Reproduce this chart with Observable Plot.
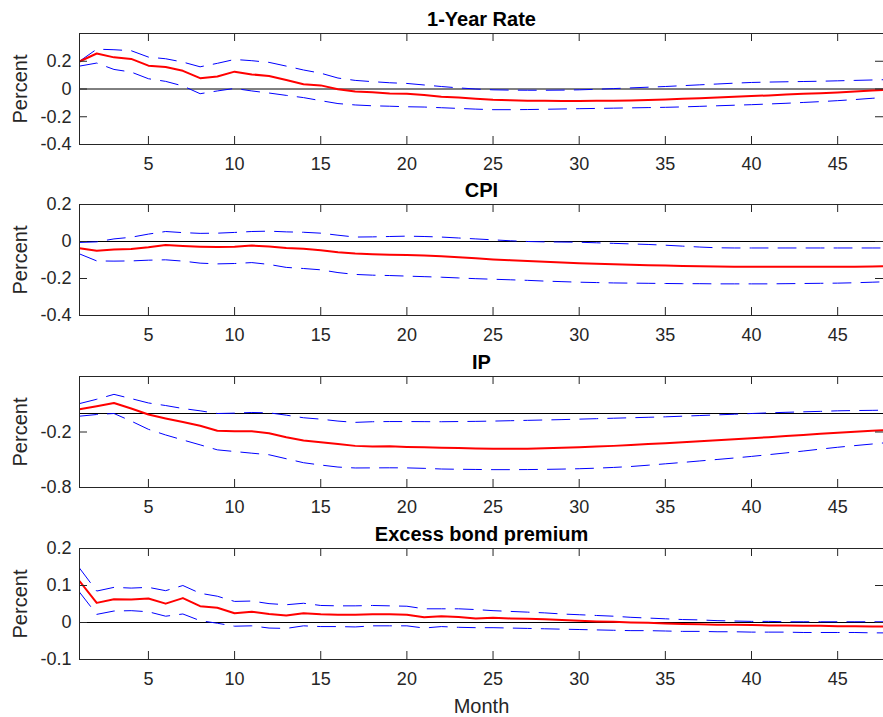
<!DOCTYPE html>
<html>
<head>
<meta charset="utf-8">
<script src="https://cdn.jsdelivr.net/npm/d3@7"></script>
<script src="https://cdn.jsdelivr.net/npm/@observablehq/plot@0.6"></script>
<style>
  html, body { margin: 0; padding: 0; background: #fff; }
  body { width: 883px; height: 717px; position: relative; overflow: hidden; font-family: "Liberation Sans", Arial, sans-serif; }
  .panel { position: absolute; left: 0; }
</style>
</head>
<body>
<div id="chart"></div>
<script>
// ---------- data ----------
const months = d3.range(1, 49);
const xTicks = [5, 10, 15, 20, 25, 30, 35, 40, 45];
const xDomain = [1, 47.66];

const titles = ["1-Year Rate", "CPI", "IP", "Excess bond premium"];
const yLabel = "Percent";
const xLabel = "Month";

// 1-Year Rate
const rateIrf = [0.198,0.256,0.228,0.217,0.168,0.159,0.131,0.078,0.090,0.125,0.105,0.094,0.065,0.034,0.026,-0.002,-0.018,-0.023,-0.032,-0.034,-0.043,-0.055,-0.062,-0.070,-0.077,-0.081,-0.084,-0.085,-0.086,-0.086,-0.085,-0.084,-0.082,-0.079,-0.075,-0.071,-0.066,-0.061,-0.056,-0.051,-0.046,-0.040,-0.035,-0.030,-0.025,-0.018,-0.011,-0.005];
const rateUp  = [0.200,0.287,0.283,0.276,0.230,0.218,0.194,0.160,0.185,0.213,0.204,0.192,0.165,0.137,0.114,0.079,0.062,0.053,0.045,0.040,0.029,0.018,0.008,0.000,-0.006,-0.008,-0.009,-0.009,-0.008,-0.006,-0.002,0.003,0.008,0.013,0.018,0.024,0.030,0.036,0.042,0.047,0.050,0.052,0.054,0.056,0.059,0.062,0.065,0.068];
const rateLo  = [0.165,0.187,0.141,0.122,0.074,0.055,0.022,-0.034,-0.014,0.004,-0.014,-0.029,-0.046,-0.062,-0.084,-0.105,-0.115,-0.121,-0.124,-0.128,-0.130,-0.135,-0.140,-0.145,-0.149,-0.149,-0.148,-0.146,-0.144,-0.142,-0.140,-0.138,-0.136,-0.134,-0.132,-0.129,-0.125,-0.121,-0.117,-0.113,-0.108,-0.103,-0.097,-0.091,-0.084,-0.076,-0.067,-0.058];
const rateYDomain = [-0.4, 0.4];
const rateYTicks = [-0.4, -0.2, 0, 0.2];

// CPI
const cpiIrf = [-0.036,-0.050,-0.043,-0.040,-0.031,-0.019,-0.024,-0.028,-0.030,-0.029,-0.022,-0.027,-0.035,-0.039,-0.047,-0.058,-0.065,-0.069,-0.071,-0.073,-0.076,-0.080,-0.085,-0.091,-0.097,-0.101,-0.105,-0.109,-0.113,-0.117,-0.120,-0.123,-0.126,-0.128,-0.130,-0.132,-0.134,-0.135,-0.136,-0.137,-0.137,-0.137,-0.137,-0.137,-0.137,-0.136,-0.135,-0.134];
const cpiUp  = [-0.005,-0.002,0.014,0.023,0.040,0.054,0.048,0.044,0.045,0.049,0.054,0.056,0.052,0.050,0.045,0.034,0.024,0.025,0.027,0.029,0.027,0.024,0.019,0.014,0.009,0.004,0.000,-0.002,-0.003,-0.004,-0.007,-0.010,-0.013,-0.016,-0.020,-0.025,-0.030,-0.034,-0.035,-0.035,-0.035,-0.035,-0.035,-0.035,-0.035,-0.035,-0.035,-0.035];
const cpiLo  = [-0.067,-0.105,-0.106,-0.105,-0.101,-0.099,-0.106,-0.117,-0.121,-0.119,-0.114,-0.124,-0.140,-0.146,-0.153,-0.168,-0.178,-0.182,-0.184,-0.187,-0.190,-0.193,-0.197,-0.201,-0.204,-0.207,-0.210,-0.214,-0.217,-0.220,-0.222,-0.224,-0.225,-0.226,-0.227,-0.228,-0.228,-0.229,-0.229,-0.229,-0.229,-0.228,-0.227,-0.226,-0.225,-0.223,-0.220,-0.217];
const cpiYDomain = [-0.4, 0.2];
const cpiYTicks = [-0.4, -0.2, 0, 0.2];

// IP
const ipIrf = [0.046,0.079,0.114,0.054,-0.011,-0.054,-0.093,-0.132,-0.186,-0.193,-0.193,-0.214,-0.257,-0.293,-0.311,-0.329,-0.350,-0.357,-0.354,-0.361,-0.364,-0.370,-0.374,-0.378,-0.381,-0.382,-0.380,-0.376,-0.371,-0.365,-0.358,-0.350,-0.341,-0.331,-0.321,-0.311,-0.301,-0.290,-0.279,-0.268,-0.256,-0.244,-0.232,-0.220,-0.208,-0.197,-0.187,-0.177];
const ipUp  = [0.107,0.154,0.207,0.161,0.114,0.086,0.054,0.029,0.000,0.004,0.011,0.007,-0.018,-0.046,-0.061,-0.082,-0.096,-0.089,-0.087,-0.087,-0.088,-0.089,-0.087,-0.085,-0.082,-0.078,-0.074,-0.070,-0.066,-0.061,-0.056,-0.051,-0.046,-0.041,-0.036,-0.029,-0.022,-0.015,-0.008,0.000,0.007,0.013,0.018,0.023,0.029,0.032,0.034,0.037];
const ipLo  = [-0.029,-0.011,0.000,-0.082,-0.171,-0.232,-0.286,-0.339,-0.393,-0.411,-0.429,-0.446,-0.489,-0.532,-0.557,-0.579,-0.589,-0.588,-0.587,-0.588,-0.593,-0.600,-0.603,-0.605,-0.607,-0.607,-0.606,-0.604,-0.601,-0.597,-0.591,-0.583,-0.573,-0.559,-0.544,-0.529,-0.513,-0.497,-0.481,-0.464,-0.445,-0.426,-0.406,-0.385,-0.365,-0.347,-0.330,-0.312];
const ipYDomain = [-0.8, 0.4];
const ipYTicks = [-0.8, -0.2];

// Excess bond premium
const ebpIrf = [0.112,0.053,0.063,0.062,0.065,0.051,0.066,0.044,0.040,0.025,0.029,0.023,0.019,0.025,0.022,0.021,0.021,0.022,0.022,0.021,0.014,0.017,0.015,0.011,0.013,0.011,0.010,0.009,0.007,0.005,0.003,0.002,0.000,-0.001,-0.003,-0.004,-0.005,-0.006,-0.006,-0.007,-0.008,-0.008,-0.009,-0.009,-0.010,-0.010,-0.011,-0.011];
const ebpUp  = [0.147,0.085,0.095,0.093,0.095,0.086,0.100,0.079,0.071,0.057,0.058,0.051,0.048,0.052,0.046,0.045,0.045,0.046,0.045,0.044,0.037,0.037,0.037,0.035,0.032,0.030,0.028,0.026,0.023,0.021,0.019,0.017,0.014,0.012,0.010,0.008,0.007,0.005,0.004,0.003,0.003,0.002,0.002,0.002,0.002,0.002,0.002,0.002];
const ebpLo  = [0.082,0.022,0.031,0.032,0.029,0.017,0.023,0.005,-0.002,-0.010,-0.009,-0.015,-0.016,-0.009,-0.011,-0.011,-0.012,-0.009,-0.009,-0.009,-0.015,-0.011,-0.013,-0.014,-0.014,-0.015,-0.016,-0.017,-0.018,-0.019,-0.020,-0.021,-0.022,-0.022,-0.023,-0.024,-0.024,-0.025,-0.025,-0.026,-0.026,-0.026,-0.027,-0.027,-0.027,-0.027,-0.028,-0.028];
const ebpYDomain = [-0.1, 0.2];
const ebpYTicks = [-0.1, 0, 0.1, 0.2];

// ---------- build ----------
const panels = [
  {title: titles[0], irf: rateIrf, up: rateUp, lo: rateLo, domain: rateYDomain, ticks: rateYTicks},
  {title: titles[1], irf: cpiIrf,  up: cpiUp,  lo: cpiLo,  domain: cpiYDomain,  ticks: cpiYTicks},
  {title: titles[2], irf: ipIrf,   up: ipUp,   lo: ipLo,   domain: ipYDomain,   ticks: ipYTicks},
  {title: titles[3], irf: ebpIrf,  up: ebpUp,  lo: ebpLo,  domain: ebpYDomain,  ticks: ebpYTicks}
];

const W = 883, ML = 79, MT = 33, INNER_H = 111, INNER_W = W - ML;
const tops = [0, 171, 343, 515];
const heights = [171, 172, 172, 202];
const axisColor = "#262626";
const dash = "18,10";
const fmt = d => String(d);
const chart = document.getElementById("chart");

panels.forEach((p, k) => {
  const rows = months.map((m, i) => ({month: m, irf: p.irf[i], up: p.up[i], lo: p.lo[i]}));
  const H = heights[k];
  const marks = [
    Plot.ruleY([0], {stroke: "#000", strokeWidth: 1}),
    Plot.line(rows, {x: "month", y: "up", stroke: "#0000ff", strokeWidth: 1, strokeDasharray: dash, clip: true}),
    Plot.line(rows, {x: "month", y: "lo", stroke: "#0000ff", strokeWidth: 1, strokeDasharray: dash, clip: true}),
    Plot.line(rows, {x: "month", y: "irf", stroke: "#ff0000", strokeWidth: 2, clip: true}),
    // box (left, top, bottom)
    Plot.ruleX([xDomain[0]], {stroke: axisColor, strokeWidth: 1}),
    Plot.ruleY([p.domain[0]], {stroke: axisColor, strokeWidth: 1}),
    Plot.ruleY([p.domain[1]], {stroke: axisColor, strokeWidth: 1}),
    // inward ticks
    Plot.tickX(xTicks, {x: d => d, insetTop: INNER_H - 8, stroke: axisColor}),
    Plot.tickX(xTicks, {x: d => d, insetBottom: INNER_H - 8, stroke: axisColor}),
    Plot.tickY(p.ticks, {y: d => d, insetRight: INNER_W - 8, stroke: axisColor}),
    Plot.tickY(p.ticks, {y: d => d, insetLeft: INNER_W - 8, stroke: axisColor}),
    // title & y label
    Plot.text([p.title], {text: d => d, frameAnchor: "top", dy: -8, lineAnchor: "bottom", textAnchor: "middle", fontSize: 20, fontWeight: "bold", fill: "#000"}),
    Plot.text([yLabel], {text: d => d, frameAnchor: "left", dx: -59, rotate: -90, textAnchor: "middle", lineAnchor: "middle", fontSize: 20, fill: axisColor})
  ];
  if (k === panels.length - 1) {
    marks.push(Plot.text([xLabel], {text: d => d, frameAnchor: "bottom", dy: 47, textAnchor: "middle", lineAnchor: "middle", fontSize: 20, fill: axisColor}));
  }
  const svg = Plot.plot({
    width: W,
    height: H,
    marginLeft: ML,
    marginRight: 0,
    marginTop: MT,
    marginBottom: H - MT - INNER_H,
    style: {background: "transparent", overflow: "visible", fontFamily: "'Liberation Sans', Arial, sans-serif", fontSize: "18px", color: axisColor},
    x: {domain: xDomain, ticks: xTicks, tickSize: 0, tickPadding: 13, label: null, tickFormat: fmt},
    y: {domain: p.domain, ticks: p.ticks, tickSize: 0, tickPadding: 8, label: null, tickFormat: fmt},
    marks
  });
  const div = document.createElement("div");
  div.className = "panel";
  div.style.top = tops[k] + "px";
  div.appendChild(svg);
  chart.appendChild(div);
});
</script>
</body>
</html>
